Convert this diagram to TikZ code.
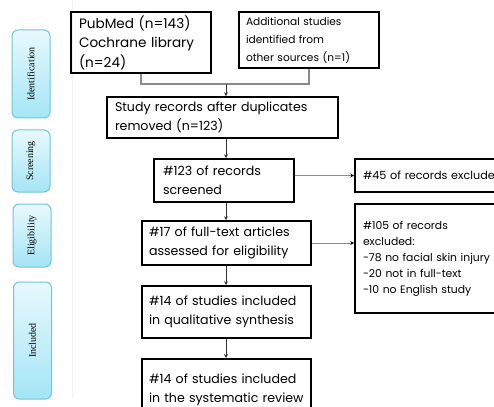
\documentclass[tikz,border=0pt]{standalone}
\usepackage{fontspec}
\setmainfont{Poppins}
\newfontfamily\stagefont{Liberation Serif}
\usetikzlibrary{arrows.meta}

\definecolor{stageedge}{HTML}{72C4D9}
\definecolor{stagefill}{HTML}{A4E5F6}
\definecolor{linkgray}{HTML}{8A8A8A}

\tikzset{
  stagebox/.style={draw=stageedge, line width=1pt, rounded corners=6pt,
    top color=stagefill!25, bottom color=stagefill, rotate=90,
    minimum height=38pt, inner sep=0pt, font=\stagefont\fontsize{10}{11}\selectfont},
  flowbox/.style={draw, line width=1.6pt, align=left, inner sep=0pt,
    font=\fontsize{12.6}{19}\selectfont},
  feedline/.style={draw=linkgray, line width=1.6pt},
  downarrow/.style={draw=black!80, line width=0.9pt, -{Stealth[length=4pt,width=4pt]}},
  sidearrow/.style={draw=linkgray, line width=0.9pt, -{Stealth[length=4pt,width=4pt,color=black]}}
}

\begin{document}
\begin{tikzpicture}[x=1pt,y=-1pt]
\def\smallfontsize{\fontsize{10.6}{18}\selectfont}
\def\exclfontsize{\fontsize{10.8}{16}\selectfont}

\useasboundingbox (0,0) rectangle (494,406);
\clip (0,0) rectangle (494,406);

\draw [black!5] (72,0) -- (72,398);

% stages
\node[stagebox, minimum width=88pt] (ident) at (31,74) {Identification};
\node[stagebox, minimum width=62pt] (screen) at (31,161) {Screening};
\node[stagebox, minimum width=63pt] (elig) at (32,235.5) {Eligibility};
\node[stagebox, minimum width=117pt] (incl) at (32.5,340.5) {Included};

% identification
\node[flowbox, minimum width=140pt, minimum height=61pt, text width=124pt,
  font=\fontsize{13.6}{19.5}\selectfont] (pubmed) at (141,42.5)
  {PubMed (n=143)\\Cochrane library\\(n=24)};
\node[flowbox, line width=1.2pt, minimum width=140pt, minimum height=56pt, text width=126pt,
  font=\smallfontsize] (additional) at (309,40)
  {Additional studies\\identified from\\other sources (n=1)};
\coordinate (join) at (226,84);

\node[flowbox, minimum width=231pt, minimum height=41pt, text width=215pt] (records) at (222.5,117.5)
  {Study records after duplicates\\removed (n=123)};

% screening
\node[flowbox, minimum width=140pt, minimum height=43pt, text width=122pt] (screened) at (224,180.5)
  {\#123 of records\\screened};
\node[flowbox, minimum width=200pt, minimum height=33pt, text width=184pt,
  font=\fontsize{11.2}{16}\selectfont] (excl45) at (455,175.5)
  {\#45 of records exclude};

% eligibility
\node[flowbox, minimum width=169pt, minimum height=44pt, text width=155pt] (fulltext) at (226.5,243)
  {\#17 of full-text articles\\assessed for eligibility};
\node[flowbox, minimum width=200pt, minimum height=109pt, text width=184pt, font=\exclfontsize] (excl105) at (455,258.5)
  {\#105 of records\\excluded:\\-78 no facial skin injury\\-20 not in full-text\\-10 no English study};

% included
\node[flowbox, minimum width=169pt, minimum height=52pt, text width=155pt] (qual) at (226.5,312)
  {\#14 of studies included\\in qualitative synthesis};
\node[flowbox, minimum width=169pt, minimum height=62pt, text width=155pt, anchor=north] (review) at (226.5,358)
  {\#14 of studies included\\in the systematic review\\[-4pt]};

% connectors
\draw[feedline] (pubmed.south) |- (join) -| (additional.south);
\draw[downarrow] (join) -- (join |- records.north);
\draw[downarrow] (join |- records.south) -- (join |- screened.north);
\draw[downarrow] (join |- screened.south) -- (join |- fulltext.north);
\draw[downarrow] (join |- fulltext.south) -- (join |- qual.north);
\draw[downarrow] (join |- qual.south) -- (join |- review.north);
\draw[sidearrow] (screened.east |- excl45.west) -- (excl45.west);
\draw[sidearrow] (fulltext.east) -- (fulltext.east -| excl105.west);

\end{tikzpicture}
\end{document}
